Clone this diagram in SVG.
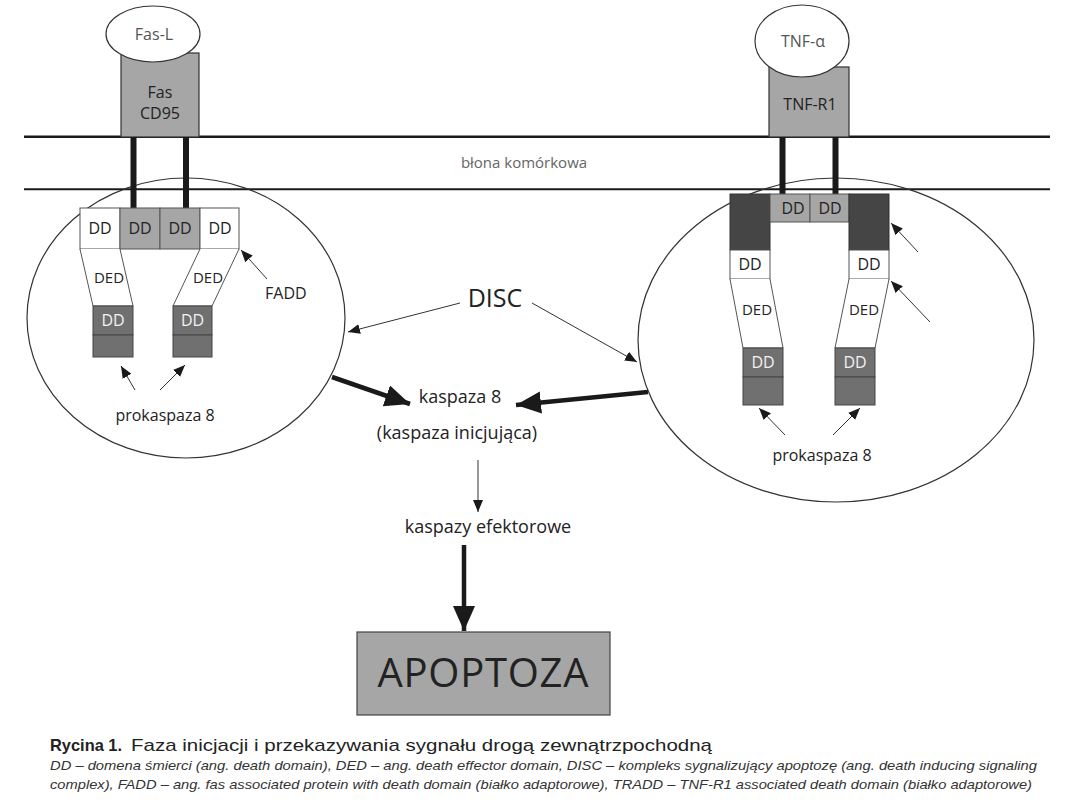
<svg xmlns="http://www.w3.org/2000/svg" width="1080" height="810" viewBox="0 0 1080 810">
<style>
text{font-family:"Open Sans","Noto Sans",sans-serif;fill:#222;}
.c{text-anchor:middle;}
.mem{stroke:#1a1a1a;fill:none;}
.ell{fill:none;stroke:#333;stroke-width:1.2;}
.lig{fill:#fff;stroke:#333;stroke-width:1.2;}
.rec{fill:#a6a6a6;stroke:#333;stroke-width:1.2;}
.bar{fill:#1a1a1a;}
.w{fill:#fff;stroke:#555;stroke-width:1;}
.g{fill:#a6a6a6;stroke:#555;stroke-width:1;}
.dk{fill:#454545;stroke:#333;stroke-width:1;}
.pk{fill:#707070;stroke:#444;stroke-width:1;}
.dd{font-size:16px;}
.wt{fill:#f2f2f2;}
.thin{stroke:#333;stroke-width:1;fill:none;marker-end:url(#ah);}
.thick{stroke:#1a1a1a;stroke-width:4.5;fill:none;marker-end:url(#ahb);}
.cap{font-family:"Liberation Sans",sans-serif;}
</style>
<defs>
<marker id="ah" markerUnits="userSpaceOnUse" markerWidth="14" markerHeight="12" refX="12" refY="5" orient="auto">
<path d="M0,0 L12,5 L0,10 Z" fill="#1a1a1a"/>
</marker>
<marker id="ahb" markerUnits="userSpaceOnUse" markerWidth="28" markerHeight="24" refX="25" refY="11" orient="auto">
<path d="M0,0 L25,11 L0,22 Z" fill="#1a1a1a"/>
</marker>
</defs>

<g id="membrane">
<line class="mem" x1="24" y1="136.7" x2="1050" y2="136.7" stroke-width="2.6"/>
<line class="mem" x1="24" y1="189.3" x2="1050" y2="189.3" stroke-width="2"/>
<text class="c" x="524" y="168" style="font-size:15px;fill:#666">błona komórkowa</text>
</g>

<g id="disc-left">
<ellipse class="ell" cx="186" cy="318" rx="159" ry="140"/>
</g>
<g id="disc-right">
<ellipse class="ell" cx="836" cy="340" rx="198" ry="162"/>
</g>

<g id="fas-receptor">
<rect class="rec" x="121" y="53" width="78" height="84"/>
<text class="c" x="160" y="98" style="font-size:16px">Fas</text>
<text class="c" x="160" y="119" style="font-size:16px">CD95</text>
<rect class="bar" x="130.5" y="137" width="6" height="71"/>
<rect class="bar" x="183" y="137" width="6" height="71"/>
</g>
<g id="fas-l">
<ellipse class="lig" cx="153" cy="34" rx="47" ry="28"/>
<text class="c" x="154" y="40" style="font-size:16px;fill:#555">Fas-L</text>
</g>

<g id="tnf-receptor">
<rect class="rec" x="769" y="67" width="80" height="70"/>
<text class="c" x="810" y="110" style="font-size:16px">TNF-R1</text>
<rect class="bar" x="779.5" y="137" width="6" height="57"/>
<rect class="bar" x="832.5" y="137" width="6" height="57"/>
</g>
<g id="tnf-a">
<ellipse class="lig" cx="802" cy="41" rx="47" ry="36"/>
<text class="c" x="803" y="47" style="font-size:16px;fill:#555">TNF-α</text>
</g>

<g id="fadd-complex">
<rect class="w" x="80" y="208" width="40" height="41"/>
<rect class="g" x="120" y="208" width="40" height="41"/>
<rect class="g" x="160" y="208" width="40" height="41"/>
<rect class="w" x="200" y="208" width="39" height="41"/>
<text class="c dd" x="100" y="234">DD</text>
<text class="c dd" x="140" y="234">DD</text>
<text class="c dd" x="180" y="234">DD</text>
<text class="c dd" x="220" y="234">DD</text>
<path class="w" d="M80,249 L93,306 L133,306 L120,249"/>
<path class="w" d="M200,249 L173,306 L212,306 L239,249"/>
<text class="c" x="109" y="283" style="font-size:15px">DED</text>
<text class="c" x="208" y="283" style="font-size:15px">DED</text>
<rect class="pk" x="93" y="306" width="40" height="29"/>
<rect class="pk" x="93" y="335" width="40" height="22"/>
<rect class="pk" x="173" y="306" width="39" height="29"/>
<rect class="pk" x="173" y="335" width="39" height="22"/>
<text class="c dd wt" x="113" y="326">DD</text>
<text class="c dd wt" x="192.5" y="326">DD</text>
<text x="265" y="299" style="font-size:16px">FADD</text>
<text class="c" x="165" y="421" style="font-size:16px">prokaspaza 8</text>
</g>

<g id="tradd-complex">
<rect class="dk" x="730" y="194" width="40" height="56"/>
<rect class="g" x="770" y="194" width="40" height="28"/>
<rect class="g" x="810" y="194" width="39" height="28"/>
<rect class="dk" x="849" y="194" width="40" height="56"/>
<text class="c dd" x="793" y="214">DD</text>
<text class="c dd" x="830" y="214">DD</text>
<rect class="w" x="730" y="250" width="40" height="29"/>
<rect class="w" x="849" y="250" width="40" height="29"/>
<text class="c dd" x="750" y="270">DD</text>
<text class="c dd" x="869" y="270">DD</text>
<path class="w" d="M730,279 L743,348 L783,348 L770,279"/>
<path class="w" d="M849,279 L835,348 L875,348 L889,279"/>
<text class="c" x="757" y="315" style="font-size:15px">DED</text>
<text class="c" x="864" y="315" style="font-size:15px">DED</text>
<rect class="pk" x="743" y="348" width="40" height="29"/>
<rect class="pk" x="743" y="377" width="40" height="28"/>
<rect class="pk" x="835" y="348" width="40" height="29"/>
<rect class="pk" x="835" y="377" width="40" height="28"/>
<text class="c dd wt" x="763" y="368">DD</text>
<text class="c dd wt" x="855" y="368">DD</text>
<text class="c" x="822" y="461" style="font-size:16px">prokaspaza 8</text>
</g>

<g id="disc-label">
<text class="c" x="495" y="307" style="font-size:25px">DISC</text>
</g>
<g id="kaspaza8">
<text class="c" x="460" y="403" style="font-size:18px">kaspaza 8</text>
<text class="c" x="457" y="439" style="font-size:18px">(kaspaza inicjująca)</text>
</g>
<g id="kaspazy-efektorowe">
<text class="c" x="488" y="533" style="font-size:18px">kaspazy efektorowe</text>
</g>
<g id="apoptoza">
<rect x="357" y="632" width="253" height="83" fill="#a6a6a6" stroke="#444" stroke-width="1.2"/>
<text class="c" x="483.5" y="687" style="font-size:40px;letter-spacing:1px" textLength="212">APOPTOZA</text>
</g>

<g id="connectors">
<line class="thin" x1="267" y1="279" x2="241" y2="250"/>
<line class="thin" x1="135" y1="390" x2="121" y2="366"/>
<line class="thin" x1="160" y1="390" x2="185" y2="365"/>
<line class="thin" x1="918" y1="252" x2="891" y2="223"/>
<line class="thin" x1="930" y1="322" x2="891" y2="281"/>
<line class="thin" x1="785" y1="435" x2="759" y2="408"/>
<line class="thin" x1="833" y1="435" x2="860" y2="408"/>
<line class="thin" x1="460" y1="303" x2="348" y2="332"/>
<line class="thin" x1="532" y1="303" x2="637" y2="362"/>
<line class="thick" x1="332" y1="377" x2="410" y2="404"/>
<line class="thick" x1="648" y1="392" x2="516" y2="405"/>
<line class="thin" x1="478" y1="460" x2="478" y2="512"/>
<line class="thick" x1="464" y1="545" x2="464" y2="631"/>
</g>

<g id="caption">
<text class="cap" x="50" y="751" style="font-size:17px"><tspan font-weight="bold" textLength="72" lengthAdjust="spacingAndGlyphs">Rycina 1.</tspan><tspan x="131" textLength="581" lengthAdjust="spacingAndGlyphs">Faza inicjacji i przekazywania sygnału drogą zewnątrzpochodną</tspan></text>
<text class="cap" x="50" y="770" style="font-size:13px;font-style:italic;fill:#333" textLength="987" lengthAdjust="spacingAndGlyphs">DD – domena śmierci (ang. death domain), DED – ang. death effector domain, DISC – kompleks sygnalizujący apoptozę (ang. death inducing signaling</text>
<text class="cap" x="50" y="789" style="font-size:13px;font-style:italic;fill:#333" textLength="982" lengthAdjust="spacingAndGlyphs">complex), FADD – ang. fas associated protein with death domain (białko adaptorowe), TRADD – TNF-R1 associated death domain (białko adaptorowe)</text>
</g>
</svg>
